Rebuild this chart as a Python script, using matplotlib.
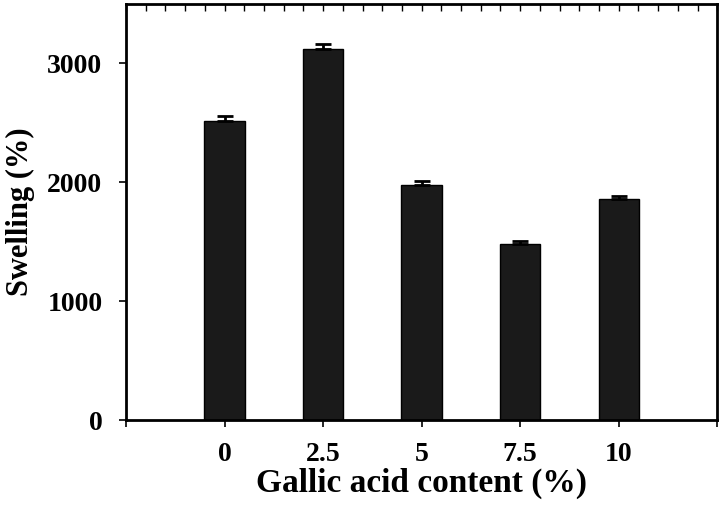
import numpy as np
import matplotlib
matplotlib.use("Agg")
import matplotlib.pyplot as plt

# Swelling vs gallic acid content
categories = ["0", "2.5", "5", "7.5", "10"]
swelling = [2520, 3120, 1975, 1480, 1860]
errors = [40, 42, 35, 30, 25]

plt.rcParams['font.family'] = ['Liberation Serif', 'DejaVu Serif']
plt.rcParams['font.weight'] = 'bold'

fig = plt.figure(figsize=(7.22, 5.05), dpi=100)
ax = fig.add_axes([0.1745, 0.168, 0.819, 0.824])

x = np.arange(len(categories))
ax.bar(x, swelling, width=0.41, color='#1a1a1a', edgecolor='black', linewidth=1, zorder=2)
ax.errorbar(x, swelling, yerr=[np.zeros(len(errors)), errors], fmt='none',
            ecolor='black', elinewidth=2, capsize=6, capthick=2, zorder=3)

ax.set_xlim(-1, len(categories))
ax.set_ylim(0, 3500)

# bottom: major ticks at each bar plus the two ends, outward
ax.set_xticks(np.arange(-1, len(categories) + 1))
ax.set_xticklabels([''] + categories + [''])
# top: small inward ticks every 0.2
ax.set_xticks(np.arange(-1, len(categories) + 0.01, 0.2), minor=True)
ax.xaxis.remove_overlapping_locs = False
ax.tick_params(axis='x', which='major', direction='out', length=5, width=1.2,
               bottom=True, top=False, labelsize=20, pad=11)
ax.tick_params(axis='x', which='minor', direction='in', length=5, width=1,
               bottom=False, top=True)

ax.set_yticks([0, 1000, 2000, 3000])
ax.tick_params(axis='y', direction='out', length=5, width=1.2, labelsize=20, pad=12)

for s in ax.spines.values():
    s.set_linewidth(2)

ax.set_xlabel('Gallic acid content (%)', fontsize=24, fontweight='bold', labelpad=0)
ax.set_ylabel('Swelling (%)', fontsize=22, fontweight='bold', labelpad=9)

fig.savefig('out.png', dpi=100)
